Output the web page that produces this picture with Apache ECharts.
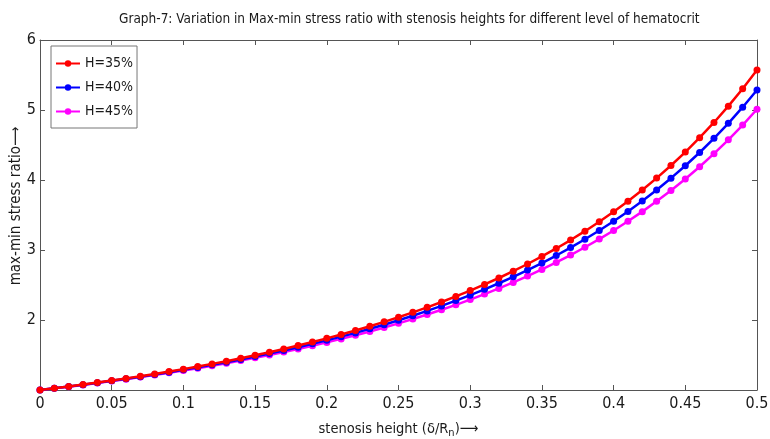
<!DOCTYPE html>
<html><head><meta charset="utf-8">
<script src="https://cdn.jsdelivr.net/npm/echarts@6/dist/echarts.min.js"></script>
<style>html,body{margin:0;padding:0;background:#fff}#c{width:770px;height:439px}</style>
</head><body><div id="c"></div>
<script>
const xs = [0,0.01,0.02,0.03,0.04,0.05,0.06,0.07,0.08,0.09,0.10,0.11,0.12,0.13,0.14,0.15,0.16,0.17,0.18,0.19,0.20,0.21,0.22,0.23,0.24,0.25,0.26,0.27,0.28,0.29,0.30,0.31,0.32,0.33,0.34,0.35,0.36,0.37,0.38,0.39,0.40,0.41,0.42,0.43,0.44,0.45,0.46,0.47,0.48,0.49,0.50];
const h35 = [1.000,1.025,1.051,1.078,1.107,1.136,1.166,1.197,1.230,1.263,1.298,1.335,1.373,1.412,1.453,1.496,1.540,1.587,1.635,1.686,1.738,1.793,1.851,1.911,1.974,2.040,2.109,2.181,2.257,2.337,2.420,2.508,2.600,2.698,2.800,2.908,3.022,3.142,3.269,3.404,3.546,3.697,3.857,4.027,4.207,4.399,4.604,4.822,5.055,5.304,5.571];
const h40 = [1.000,1.024,1.050,1.076,1.103,1.131,1.160,1.190,1.222,1.254,1.288,1.323,1.359,1.397,1.437,1.478,1.520,1.565,1.611,1.659,1.709,1.762,1.816,1.874,1.933,1.996,2.061,2.130,2.201,2.277,2.355,2.438,2.525,2.617,2.713,2.814,2.921,3.034,3.153,3.278,3.411,3.551,3.700,3.858,4.026,4.204,4.393,4.595,4.810,5.040,5.285];
const h45 = [1.000,1.024,1.048,1.073,1.100,1.127,1.155,1.184,1.214,1.245,1.278,1.311,1.346,1.382,1.420,1.459,1.500,1.542,1.586,1.632,1.680,1.730,1.782,1.836,1.893,1.952,2.014,2.079,2.146,2.217,2.292,2.370,2.451,2.537,2.628,2.723,2.823,2.928,3.039,3.156,3.279,3.410,3.548,3.695,3.850,4.015,4.190,4.376,4.574,4.785,5.011];
const xTicks = [0,0.05,0.1,0.15,0.2,0.25,0.3,0.35,0.4,0.45,0.5];
const names = ['H=35%','H=40%','H=45%'];
const colors = ['#ff0000','#0000ff','#ff00ff'];

const F = "'DejaVu Sans Condensed','Liberation Sans Narrow',sans-serif";
const chart = echarts.init(document.getElementById('c'));
const mk = (arr) => xs.map((x,i)=>[x,arr[i]]);
const fmtX = v => { const r = Math.round(v*100)/100; return xTicks.includes(r) ? String(r) : ''; };
const baseX = {type:'value',min:0,max:0.5,interval:0.05,
  axisLine:{show:true,onZero:false,lineStyle:{color:'#555',width:1}},
  axisTick:{show:true,inside:true,length:5,lineStyle:{color:'#555'}},
  splitLine:{show:false}};
const baseY = {type:'value',min:1,max:6,interval:1,
  axisLine:{show:true,onZero:false,lineStyle:{color:'#555',width:1}},
  axisTick:{show:true,inside:true,length:5,lineStyle:{color:'#555'}},
  splitLine:{show:false}};
chart.setOption({
  backgroundColor:'#fff',
  animation:false,
  title:{text:'Graph-7: Variation in Max-min stress ratio with stenosis heights for different level of hematocrit',
    left:114,top:7,textStyle:{fontFamily:F,fontSize:13.5,fontWeight:'normal',color:'#1a1a1a'}},
  legend:{data:names,orient:'vertical',left:51,top:46,itemGap:7,itemWidth:24,itemHeight:8,
    backgroundColor:'#fff',borderColor:'#777',borderWidth:1,padding:[9,4,8,4],borderRadius:0,
    textStyle:{fontFamily:F,fontSize:14,color:'#1a1a1a',lineHeight:17}},
  grid:{left:40,right:13,top:40,bottom:49,outerBoundsMode:'none',containLabel:false},
  xAxis:[Object.assign({},baseX,{position:'bottom',
      axisLabel:{show:true,formatter:fmtX,fontFamily:F,fontSize:16,color:'#1a1a1a',margin:6},
      name:'stenosis height (δ/R{s|n})⟶',nameLocation:'middle',nameGap:30,nameMoveOverlap:false,
      nameTextStyle:{fontFamily:F,fontSize:14.5,color:'#1a1a1a',rich:{s:{fontFamily:F,fontSize:11,color:'#1a1a1a',verticalAlign:'bottom',padding:[8,0,0,0]}}}}),
    Object.assign({},baseX,{position:'top',axisLabel:{show:false}})],
  yAxis:[Object.assign({},baseY,{position:'left',
      axisLabel:{show:true,showMinLabel:false,fontFamily:F,fontSize:16,color:'#1a1a1a',margin:4},
      name:'max-min stress ratio⟶',nameLocation:'middle',nameGap:16,nameMoveOverlap:false,
      nameTextStyle:{fontFamily:F,fontSize:15,color:'#1a1a1a',padding:[0,0,0,18]}}),
    Object.assign({},baseY,{position:'right',axisLabel:{show:false}})],
  series:names.map((n,k)=>({name:n,type:'line',data:mk([h35,h40,h45][k]),
    xAxisIndex:0,yAxisIndex:0,symbol:'circle',symbolSize:7,
    lineStyle:{width:2.5,color:colors[k]},itemStyle:{color:colors[k]},z:3-k}))
});
</script></body></html>
